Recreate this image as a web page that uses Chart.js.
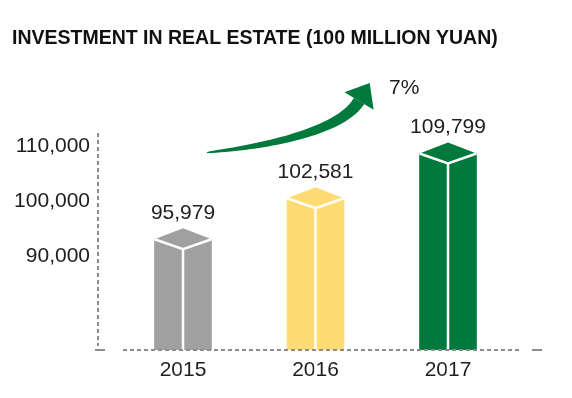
<!DOCTYPE html>
<html>
<head>
<meta charset="utf-8">
<script src="https://cdn.jsdelivr.net/npm/chart.js@4.4.0/dist/chart.umd.min.js"></script>
<style>
  html, body { margin: 0; padding: 0; background: #ffffff; }
</style>
</head>
<body>
<canvas id="chart" width="572" height="398"></canvas>
<script>
// Datos
const years = ['2015', '2016', '2017'];
const investment = [95979, 102581, 109799];
const yTicks = [90000, 100000, 110000];
const growthLabel = '7%';

// Colores
const barColors = ['#a0a0a0', '#ffdc73', '#007a3c'];
const arrowColor = '#007a3c';
const textColor = '#1e1e1e';
const axisGray = '#8c8c8c';
const FONT = "'Liberation Sans', Arial, sans-serif";

// Flecha decorativa (coordenadas del lienzo)
const arrow = {
    p0: [207, 152.5], p1: [267, 146.5], p2: [341, 131], p3: [359, 101],
    dir: [0.512, -0.859], headHalf: 17, headLen: 21
};

function bez(t, a, b, c, d) {
    const u = 1 - t;
    return u * u * u * a + 3 * u * u * t * b + 3 * u * t * t * c + t * t * t * d;
}

const cubePlugin = {
    id: 'cubes',
    afterDatasetsDraw(chart) {
        const ctx = chart.ctx;
        const area = chart.chartArea;
        const meta = chart.getDatasetMeta(0);
        ctx.save();

        // tapas y aristas blancas
        meta.data.forEach((bar, i) => {
            const half = bar.width / 2;
            const left = bar.x - half, right = bar.x + half;
            const top = bar.y;
            const peak = top - 11, front = top + 10;

            ctx.fillStyle = barColors[i];
            ctx.beginPath();
            ctx.moveTo(left, top);
            ctx.lineTo(bar.x, peak);
            ctx.lineTo(right, top);
            ctx.lineTo(bar.x, front);
            ctx.closePath();
            ctx.fill();

            ctx.strokeStyle = '#ffffff';
            ctx.lineWidth = 2.5;
            ctx.beginPath();
            ctx.moveTo(left, top);
            ctx.lineTo(bar.x, front);
            ctx.lineTo(right, top);
            ctx.moveTo(bar.x, front);
            ctx.lineTo(bar.x, bar.base);
            ctx.stroke();

            ctx.fillStyle = textColor;
            ctx.font = '21px ' + FONT;
            ctx.textAlign = 'center';
            ctx.textBaseline = 'middle';
            ctx.fillText(investment[i].toLocaleString('en-US'), bar.x, top - 26);
        });

        // ejes punteados
        const yb = area.bottom;
        ctx.strokeStyle = axisGray;
        ctx.lineWidth = 2;
        ctx.beginPath();
        ctx.moveTo(area.left - 3, yb);
        ctx.lineTo(area.left + 7, yb);
        ctx.moveTo(area.right - 13, yb);
        ctx.lineTo(area.right - 3, yb);
        ctx.stroke();
        ctx.setLineDash([4, 3]);
        ctx.beginPath();
        ctx.moveTo(area.left + 25, yb);
        ctx.lineTo(area.right - 25, yb);
        ctx.moveTo(area.left, area.top);
        ctx.lineTo(area.left, yb - 4);
        ctx.stroke();
        ctx.setLineDash([]);

        // flecha curva
        const N = 40;
        const upper = [], lower = [];
        for (let k = 0; k <= N; k++) {
            const t = k / N;
            const x = bez(t, arrow.p0[0], arrow.p1[0], arrow.p2[0], arrow.p3[0]);
            const y = bez(t, arrow.p0[1], arrow.p1[1], arrow.p2[1], arrow.p3[1]);
            const t2 = Math.min(1, t + 0.001), t1 = t2 - 0.001;
            const dx = bez(t2, arrow.p0[0], arrow.p1[0], arrow.p2[0], arrow.p3[0]) - bez(t1, arrow.p0[0], arrow.p1[0], arrow.p2[0], arrow.p3[0]);
            const dy = bez(t2, arrow.p0[1], arrow.p1[1], arrow.p2[1], arrow.p3[1]) - bez(t1, arrow.p0[1], arrow.p1[1], arrow.p2[1], arrow.p3[1]);
            const len = Math.hypot(dx, dy) || 1;
            const nx = -dy / len, ny = dx / len;
            const w = 0.5 + 5.5 * Math.pow(t, 0.7);
            upper.push([x + nx * w, y + ny * w]);
            lower.push([x - nx * w, y - ny * w]);
        }
        ctx.fillStyle = arrowColor;
        ctx.beginPath();
        ctx.moveTo(upper[0][0], upper[0][1]);
        upper.forEach(p => ctx.lineTo(p[0], p[1]));
        lower.reverse().forEach(p => ctx.lineTo(p[0], p[1]));
        ctx.closePath();
        ctx.fill();

        const [mx, my] = arrow.p3;
        const [dx, dy] = arrow.dir;
        const px = -dy, py = dx;
        ctx.beginPath();
        ctx.moveTo(mx + px * arrow.headHalf, my + py * arrow.headHalf);
        ctx.lineTo(mx + dx * arrow.headLen, my + dy * arrow.headLen);
        ctx.lineTo(mx - px * arrow.headHalf, my - py * arrow.headHalf);
        ctx.closePath();
        ctx.fill();

        ctx.fillStyle = textColor;
        ctx.font = '21px ' + FONT;
        ctx.textAlign = 'left';
        ctx.textBaseline = 'middle';
        ctx.fillText(growthLabel, 389, 88);

        ctx.restore();
    }
};

const ctx = document.getElementById('chart').getContext('2d');
new Chart(ctx, {
    type: 'bar',
    data: {
        datasets: [{
            data: investment.map((v, i) => ({ x: i, y: v })),
            backgroundColor: barColors,
            borderWidth: 0,
            barThickness: 57,
            yAxisID: 'yBar'
        }]
    },
    options: {
        responsive: false,
        animation: false,
        layout: { padding: { left: 12, right: 27, top: 0, bottom: 0 } },
        plugins: {
            legend: { display: false },
            tooltip: { enabled: false },
            title: {
                display: true,
                text: 'INVESTMENT IN REAL ESTATE (100 MILLION YUAN)',
                align: 'start',
                color: '#111111',
                font: { family: FONT, size: 19.5, weight: 'bold' },
                padding: { top: 26.6, bottom: 83 }
            }
        },
        scales: {
            x: {
                type: 'linear',
                offset: false,
                min: -0.6415,
                max: 2.732,
                afterBuildTicks: s => { s.ticks = years.map((_, i) => ({ value: i })); },
                afterFit: s => { s.height = 48; },
                grid: { display: false, drawTicks: false },
                border: { display: false },
                ticks: {
                    padding: 8,
                    color: textColor,
                    font: { family: FONT, size: 21 },
                    callback: v => years[v]
                }
            },
            y: {
                position: 'left',
                min: 72909,
                max: 112364,
                afterBuildTicks: s => { s.ticks = yTicks.map(v => ({ value: v })); },
                afterFit: s => { s.width = 86; },
                grid: { display: false, drawTicks: false },
                border: { display: false },
                ticks: {
                    padding: 8,
                    color: textColor,
                    font: { family: FONT, size: 21 },
                    callback: v => v.toLocaleString('en-US')
                }
            },
            yBar: {
                display: false,
                min: 78132,
                max: 113098
            }
        }
    },
    plugins: [cubePlugin]
});
</script>
</body>
</html>
